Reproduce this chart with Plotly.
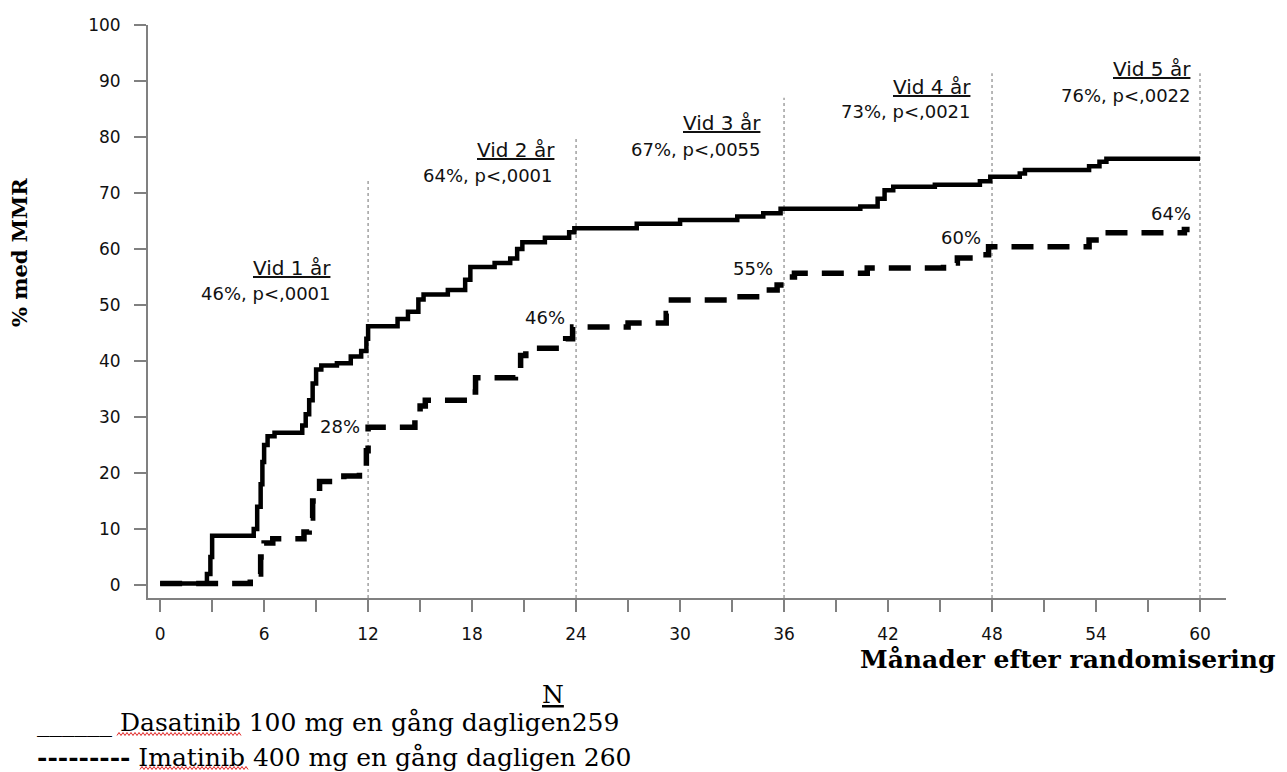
import plotly.graph_objects as go

# ---------------- data ----------------
das_months = [0, 2.7, 2.9, 3.0, 5.4, 5.6, 5.8, 5.9, 6.0, 6.2, 6.6, 8.2, 8.4, 8.6, 8.8, 9.0, 9.3,
              10.2, 11.0, 11.6, 11.9, 12.0, 13.7, 14.3, 14.9, 15.2, 16.6, 17.6, 17.9, 19.3,
              20.2, 20.6, 20.9, 22.2, 23.6, 23.9, 27.5, 30.0, 33.3, 34.8, 35.8, 40.4, 41.4,
              41.8, 42.3, 44.7, 47.3, 47.9, 49.6, 49.9, 53.6, 54.2, 54.6, 60.0]
das_pct = [0.3, 2, 5, 8.8, 10, 14, 18, 22, 25, 26.6, 27.2, 28.5, 30.5, 33, 36, 38.5, 39.2,
           39.6, 40.8, 41.8, 44, 46.2, 47.5, 48.8, 51, 51.9, 52.7, 54.5, 56.8, 57.5,
           58.3, 60, 61.2, 62, 63, 63.7, 64.5, 65.2, 65.8, 66.4, 67.2, 67.6, 69,
           70.5, 71.1, 71.5, 72.1, 72.9, 73.5, 74.1, 74.8, 75.6, 76.1, 76.1]

ima_months = [0, 5.2, 5.5, 5.8, 6.0, 6.5, 8.3, 8.6, 8.8, 9.2, 10.6, 11.5, 11.9, 12.0, 14.7,
              15.0, 15.3, 17.9, 18.2, 20.5, 20.8, 21.1, 23.4, 23.8, 27.0, 29.2, 29.5, 33.3,
              34.7, 35.6, 36.2, 36.6, 40.8, 45.2, 46.0, 47.1, 47.8, 53.6, 54.3, 59.1, 59.4]
ima_pct = [0.3, 0.5, 2, 5, 7.5, 8.3, 9.5, 12, 15, 18.5, 19.5, 20.5, 24, 28.2, 29.5,
           32, 33, 34.5, 37, 38.5, 41, 42.3, 44, 46.1, 46.8, 48.5, 50.9, 51.5,
           52.7, 53.6, 55, 55.7, 56.6, 57.5, 58.4, 59, 60.4, 61.6, 62.9, 63.5, 63.5]

year_months = [12, 24, 36, 48, 60]
year_titles = ["Vid 1 år", "Vid 2 år", "Vid 3 år", "Vid 4 år", "Vid 5 år"]
year_stats = ["46%, p<,0001", "64%, p<,0001", "67%, p<,0055", "73%, p<,0021", "76%, p<,0022"]
ima_labels = ["28%", "46%", "55%", "60%", "64%"]

x_ticks = list(range(0, 61, 3))
x_ticktext = [str(v) if v % 6 == 0 else "" for v in x_ticks]
y_ticks = list(range(0, 101, 10))

# ---------------- layout helpers (positions / styles) ----------------
guide_tops = [72.7, 80, 87, 91.4, 91.4]
title_pos = [(10.0, 56.6), (22.9, 77.7), (34.8, 82.5), (46.9, 88.9), (59.6, 92.1)]
stat_pos = [(10.0, 52.1), (22.8, 73.2), (34.8, 77.7), (46.9, 84.5), (59.6, 87.5)]
ima_lab_pos = [(11.66, 28.4), (23.5, 47.7), (35.5, 56.6), (47.5, 62.0), (59.6, 66.4)]

W, H = 1287, 772
L, R, T, B = 148, 61, 25, 174
PW, PH = W - L - R, H - T - B


def px(xp):
    return (xp - L) / PW


def py(yp):
    return (H - B - yp) / PH


SANS = "DejaVu Sans"
SERIF = "DejaVu Serif"
INK = "#111111"

fig = go.Figure()

fig.add_trace(go.Scatter(x=das_months, y=das_pct, mode="lines", line_shape="hv",
                         line=dict(color="black", width=4.5), name="Dasatinib",
                         showlegend=False))
fig.add_trace(go.Scatter(x=ima_months, y=ima_pct, mode="lines", line_shape="hv",
                         line=dict(color="black", width=5.5, dash="22px,14px"),
                         name="Imatinib", showlegend=False))

shapes = []
for m, top in zip(year_months, guide_tops):
    shapes.append(dict(type="line", xref="x", yref="y", x0=m, x1=m, y0=-2.3, y1=top,
                       line=dict(color="#a0a0a0", width=1.5, dash="dot"), layer="below"))


def wavy(x0, x1, yc):
    pts = []
    n = int((x1 - x0) / 2)
    for i in range(n + 1):
        xx = x0 + i * 2
        yy = yc + (1.5 if i % 2 == 0 else -1.5)
        pts.append(f"{px(xx):.5f},{py(yy):.5f}")
    return "M " + " L ".join(pts)


for (a, b, yc) in [(117, 242, 734), (140, 248, 768)]:
    shapes.append(dict(type="path", xref="paper", yref="paper", path=wavy(a, b, yc),
                       line=dict(color="#e02020", width=1)))

annotations = []
for t, (x, y) in zip(year_titles, title_pos):
    annotations.append(dict(x=x, y=y, xref="x", yref="y", text=f"<u>{t}</u>",
                            showarrow=False, xanchor="right", yanchor="middle",
                            font=dict(family=SANS, size=20, color=INK)))
for t, (x, y) in zip(year_stats, stat_pos):
    annotations.append(dict(x=x, y=y, xref="x", yref="y", text=t.replace("<", "&lt;"),
                            showarrow=False, xanchor="right", yanchor="middle",
                            font=dict(family=SANS, size=18, color=INK)))
for t, (x, y) in zip(ima_labels, ima_lab_pos):
    annotations.append(dict(x=x, y=y, xref="x", yref="y", text=t,
                            showarrow=False, xanchor="right", yanchor="middle",
                            font=dict(family=SANS, size=18, color=INK)))

# axis titles
annotations.append(dict(x=px(19), y=py(253), xref="paper", yref="paper",
                        text="<b>% med MMR</b>", textangle=-90, showarrow=False,
                        xanchor="center", yanchor="middle",
                        font=dict(family=SERIF, size=21, color="black")))
annotations.append(dict(x=px(1277), y=py(659), xref="paper", yref="paper",
                        text="<b>Månader efter randomisering</b>", showarrow=False,
                        xanchor="right", yanchor="middle",
                        font=dict(family=SERIF, size=25, color="black")))

# legend-like text block
annotations.append(dict(x=px(553), y=py(694), xref="paper", yref="paper",
                        text="<u>N</u>", showarrow=False, xanchor="center",
                        yanchor="middle", font=dict(family=SERIF, size=25, color="black")))
annotations.append(dict(x=px(35), y=py(722), xref="paper", yref="paper",
                        text="______ Dasatinib 100 mg en gång dagligen259", showarrow=False,
                        xanchor="left", yanchor="middle",
                        font=dict(family=SERIF, size=25, color="black")))
annotations.append(dict(x=px(35), y=py(757), xref="paper", yref="paper",
                        text="<b>---------</b> Imatinib 400 mg en gång dagligen 260",
                        showarrow=False, xanchor="left", yanchor="middle",
                        font=dict(family=SERIF, size=25, color="black")))

axis_col = "#808080"
fig.update_layout(
    width=W, height=H,
    margin=dict(l=L, r=R, t=T, b=B, autoexpand=False),
    paper_bgcolor="white", plot_bgcolor="white",
    shapes=shapes, annotations=annotations,
    xaxis=dict(range=[-0.7, 61.5], tickvals=x_ticks, ticktext=x_ticktext,
               showgrid=False, zeroline=False, showline=True, linecolor=axis_col,
               linewidth=2, ticks="outside", ticklen=12, tickwidth=2, tickcolor=axis_col,
               ticklabelstandoff=8,
               tickfont=dict(family=SANS, size=17, color=INK)),
    yaxis=dict(range=[-2.3, 100], tickvals=y_ticks, showgrid=False, zeroline=False,
               showline=True, linecolor=axis_col, linewidth=2, ticks="outside",
               ticklen=12, tickwidth=2, tickcolor=axis_col, ticklabelstandoff=10,
               tickfont=dict(family=SANS, size=17, color=INK)),
)

fig.write_html("out.html", config={"displayModeBar": False},
               post_script="document.body.style.margin='0';"
                           "document.body.style.overflow='hidden';")
